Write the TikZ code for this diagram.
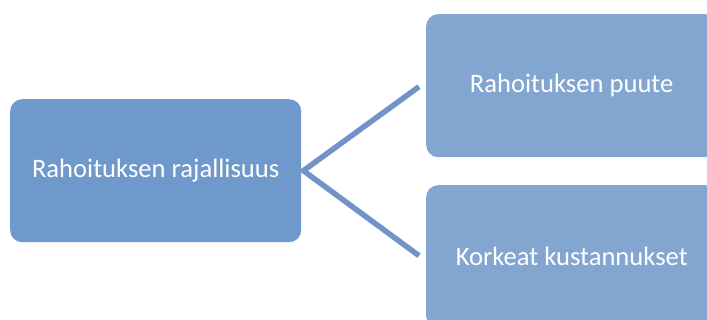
\documentclass[tikz,border=0pt]{standalone}
\usepackage{fontspec}
\setmainfont{Carlito}
\usetikzlibrary{calc}
\definecolor{boxmain}{RGB}{112,153,203}
\definecolor{boxsub}{RGB}{131,166,208}
\definecolor{linkcol}{RGB}{113,147,199}
\tikzset{
  block/.style={rounded corners=12pt, minimum width=291pt, minimum height=143pt,
    inner sep=0pt, text=white, font=\fontsize{26.6}{31}\selectfont, anchor=north west},
  link/.style={draw=linkcol, line width=5.5pt, line join=miter}
}
\begin{document}
\begin{tikzpicture}[x=1pt,y=-1pt]
  \useasboundingbox (0,0) rectangle (707,320);
  \clip (0,0) rectangle (707,320);
  \node[block, fill=boxmain] (root) at (10,99) {Rahoituksen rajallisuus};
  \node[block, fill=boxsub] (top) at (426,14) {Rahoituksen puute};
  \node[block, fill=boxsub] (bot) at (426,185) {Korkeat kustannukset};
  \coordinate (apex) at ($(root.east)+(2,0)$);
  \coordinate (topend) at ($(top.west)+(-7,1)$);
  \coordinate (botend) at ($(bot.west)+(-7,-1)$);
  \draw[link] (topend) -- (apex) -- (botend);
\end{tikzpicture}
\end{document}
